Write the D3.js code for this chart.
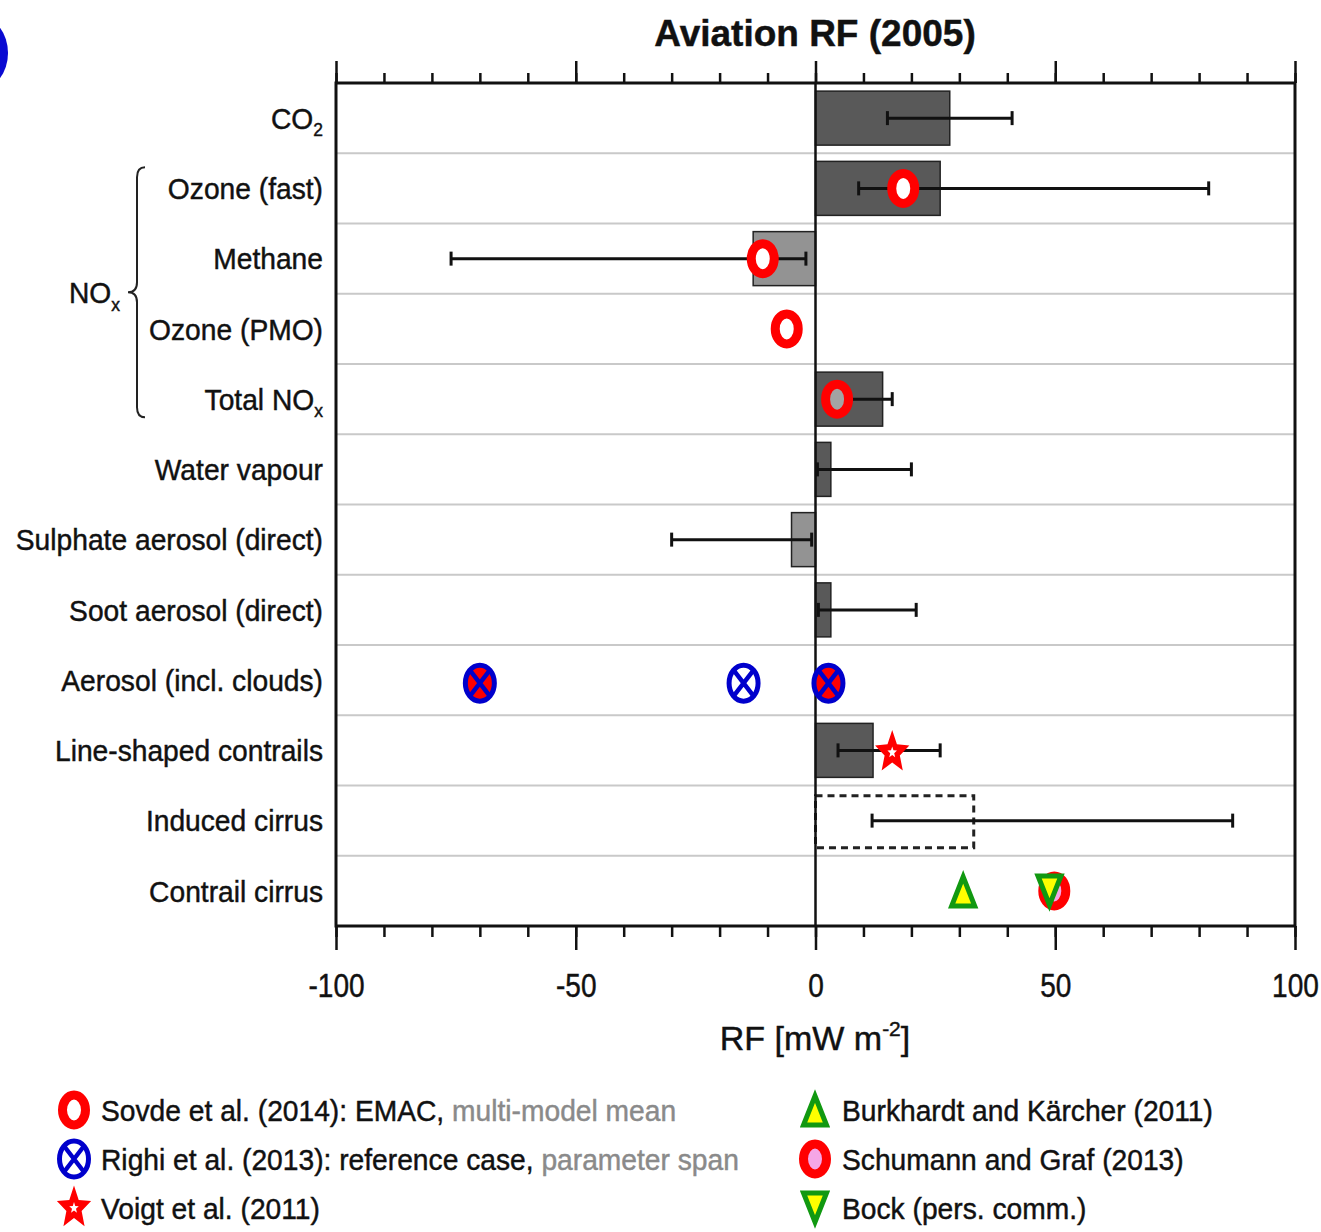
<!DOCTYPE html>
<html>
<head>
<meta charset="utf-8">
<script src="https://cdn.jsdelivr.net/npm/d3@7"></script>
<style>
  body { margin: 0; background: #fff; }
  text { font-family: "Liberation Sans", Arial, Helvetica, sans-serif; fill: #111; stroke: #111; stroke-width: 0.45px; }
</style>
</head>
<body>
<div class="canva"></div>
<script>
// rows of the chart, "_" marks a subscript
const categories = ["CO_2", "Ozone (fast)", "Methane", "Ozone (PMO)", "Total NO_x", "Water vapour",
  "Sulphate aerosol (direct)", "Soot aerosol (direct)", "Aerosol (incl. clouds)",
  "Line-shaped contrails", "Induced cirrus", "Contrail cirrus"]

// best estimate bars and their ranges (mW m-2)
const barValue = [28, 26, -13, null, 14, 3.2, -5, 3.2, null, 12, 33, null]
const barKind  = ["dark", "dark", "light", null, "dark", "dark", "light", "dark", null, "dark", "dashed", null]
const errLow   = [15, 9, -76, null, 4, 0.4, -30, 0.6, null, 4.7, 11.8, null]
const errHigh  = [41, 82, -2, null, 16, 20, -0.8, 21, null, 26, 87, null]

// study markers
const sovdeCats   = ["Ozone (fast)", "Methane", "Ozone (PMO)", "Total NO_x"]
const sovdeValues = [18.3, -11, -6, 4.5]
const sovdeMean   = [false, false, false, true]
const righiValues = [-70, -15, 2.7]
const righiRef    = [false, true, false]
const voigtValues = [16]
const burkhardtValues = [30.8]
const schumannValues  = [49.8]
const bockValues      = [48.8]

const xTicks = d3.range(-100, 101, 10)
const xMajor = [-100, -50, 0, 50, 100]

const legendLeft  = [["Sovde et al. (2014): EMAC, ", "multi-model mean"],
                     ["Righi et al. (2013): reference case, ", "parameter span"],
                     ["Voigt et al. (2011)", ""]]
const legendRight = ["Burkhardt and Kärcher (2011)", "Schumann and Graf (2013)", "Bock (pers. comm.)"]

const svg = d3.select(".canva").append("svg")
  .attr("width", 1321).attr("height", 1232)

const x = d3.scaleLinear().domain([-100, 100]).range([336, 1295])
const y = d3.scaleBand().domain(categories).range([83, 926])
const yc = d => y(d) + y.bandwidth() / 2
const barH = 54

// panel letter blob at the corner
svg.append("ellipse").attr("cx", -20).attr("cy", 53).attr("rx", 28).attr("ry", 36).attr("fill", "#0a0ad2")

// title
svg.append("text").text("Aviation RF (2005)")
  .attr("x", 815).attr("y", 46).attr("text-anchor", "middle")
  .attr("font-size", 37).attr("font-weight", "bold")

// row separators
svg.selectAll(".sep").data(categories.slice(1)).join("line")
  .attr("x1", 336).attr("x2", 1295)
  .attr("y1", d => y(d)).attr("y2", d => y(d))
  .attr("stroke", "#c9c9c9").attr("stroke-width", 2)

function addLabel(g, str, size) {
  const t = g.append("text")
  str.split("_").forEach((part, i) => {
    if (i == 0) t.append("tspan").text(part)
    else t.append("tspan").text(part).attr("font-size", size * 0.62).attr("dy", size * 0.25)
  })
  return t
}

// y labels
categories.forEach(c => {
  const g = svg.append("g").attr("transform", `translate(323,${yc(c)}) scale(0.94,1)`)
  addLabel(g, c, 30).attr("text-anchor", "end").attr("font-size", 30).attr("dy", "0.36em")
})

// NOx brace
const yb1 = y("Ozone (fast)") + 14, yb2 = y("Total NO_x") + y.bandwidth() - 17
const ym = (yb1 + yb2) / 2
svg.append("path")
  .attr("d", `M145,${yb1} Q137,${yb1} 137,${yb1 + 10} L137,${ym - 10} Q137,${ym} 128,${ym} Q137,${ym} 137,${ym + 10} L137,${yb2 - 10} Q137,${yb2} 145,${yb2}`)
  .attr("fill", "none").attr("stroke", "#222").attr("stroke-width", 2)
const nox = svg.append("g").attr("transform", `translate(69,${ym}) scale(0.94,1)`)
addLabel(nox, "NO_x", 30).attr("font-size", 30).attr("dy", "0.36em")

// bars
const rows = categories.map((c, i) => ({c, v: barValue[i], k: barKind[i], lo: errLow[i], hi: errHigh[i]}))
svg.selectAll(".bar").data(rows.filter(d => d.v != null)).join("rect")
  .attr("x", d => x(Math.min(0, d.v)))
  .attr("width", d => Math.abs(x(d.v) - x(0)))
  .attr("y", d => yc(d.c) - barH / 2 + (d.k == "dashed" ? 2 : 0))
  .attr("height", d => d.k == "dashed" ? barH - 2 : barH)
  .attr("fill", d => d.k == "dark" ? "#595959" : d.k == "light" ? "#939393" : "none")
  .attr("stroke", "#222")
  .attr("stroke-width", d => d.k == "dashed" ? 3 : 1.5)
  .attr("stroke-dasharray", d => d.k == "dashed" ? "7,5" : null)

// zero line
svg.append("line").attr("x1", x(0)).attr("x2", x(0)).attr("y1", 83).attr("y2", 926)
  .attr("stroke", "#111").attr("stroke-width", 2.5)

// error bars
const eb = svg.selectAll(".err").data(rows.filter(d => d.lo != null)).join("g")
eb.append("line").attr("x1", d => x(d.lo)).attr("x2", d => x(d.hi))
  .attr("y1", d => yc(d.c)).attr("y2", d => yc(d.c))
  .attr("stroke", "#111").attr("stroke-width", 3)
eb.selectAll(".cap").data(d => [[d.lo, d.c], [d.hi, d.c]]).join("line")
  .attr("x1", d => x(d[0])).attr("x2", d => x(d[0]))
  .attr("y1", d => yc(d[1]) - 7).attr("y2", d => yc(d[1]) + 7)
  .attr("stroke", "#111").attr("stroke-width", 3)

// marker drawing helpers
function ring(g, fill) {
  g.append("ellipse").attr("rx", 11.5).attr("ry", 15)
    .attr("fill", fill).attr("stroke", "#ff0000").attr("stroke-width", 9)
}
function crossed(g, fill) {
  g.append("ellipse").attr("rx", 14.5).attr("ry", 18)
    .attr("fill", fill).attr("stroke", "#0000cc").attr("stroke-width", 5)
  g.append("path").attr("d", "M-10,-13 L10,13 M10,-13 L-10,13")
    .attr("stroke", "#0000cc").attr("stroke-width", 4.5)
}
function starPath(R, r, sy) {
  let p = ""
  for (let i = 0; i < 10; i++) {
    const a = -Math.PI / 2 + i * Math.PI / 5
    const rad = i % 2 ? r : R
    p += (i ? "L" : "M") + (rad * Math.cos(a)).toFixed(2) + "," + (rad * Math.sin(a) * sy).toFixed(2)
  }
  return p + "Z"
}
function star(g) {
  g.append("path").attr("d", starPath(18, 8, 1.25)).attr("fill", "#ff0000")
  g.append("path").attr("d", starPath(5, 2.1, 1.2)).attr("fill", "#fff")
}
function tri(g, up) {
  const s = up ? 1 : -1
  g.append("path").attr("d", `M0,${-14 * s} L11.5,${15 * s} L-11.5,${15 * s} Z`)
    .attr("fill", "#ffff00").attr("stroke", "#119911").attr("stroke-width", 5)
    .attr("stroke-linejoin", "miter")
}

// Sovde et al.
sovdeCats.forEach((c, i) => {
  ring(svg.append("g").attr("transform", `translate(${x(sovdeValues[i])},${yc(c)})`), sovdeMean[i] ? "#a3a3a3" : "#fff")
})
// Righi et al.
righiValues.forEach((v, i) => {
  crossed(svg.append("g").attr("transform", `translate(${x(v)},${yc("Aerosol (incl. clouds)") + 3})`), righiRef[i] ? "#fff" : "#ff0000")
})
// Voigt et al.
voigtValues.forEach(v => star(svg.append("g").attr("transform", `translate(${x(v)},${yc("Line-shaped contrails") + 2})`)))
// contrail cirrus estimates
burkhardtValues.forEach(v => tri(svg.append("g").attr("transform", `translate(${x(v)},${yc("Contrail cirrus")})`), true))
schumannValues.forEach(v => ring(svg.append("g").attr("transform", `translate(${x(v)},${yc("Contrail cirrus")})`), "#f5a6e6"))
bockValues.forEach(v => tri(svg.append("g").attr("transform", `translate(${x(v)},${yc("Contrail cirrus")})`), false))

// axes, ticks outward
function styleAxis(g) {
  g.select(".domain").remove()
  g.selectAll(".tick line").attr("stroke", "#111").attr("stroke-width", 2.5)
}
svg.append("g").attr("transform", "translate(0,83)")
  .call(d3.axisTop(x).tickValues(xTicks).tickSize(10).tickFormat("")).call(styleAxis)
svg.append("g").attr("transform", "translate(0,83)")
  .call(d3.axisTop(x).tickValues(xMajor).tickSize(22).tickFormat("")).call(styleAxis)
svg.append("g").attr("transform", "translate(0,926)")
  .call(d3.axisBottom(x).tickValues(xTicks).tickSize(11).tickFormat("")).call(styleAxis)
const xb = svg.append("g").attr("transform", "translate(0,926)")
  .call(d3.axisBottom(x).tickValues(xMajor).tickSize(24).tickPadding(24).tickFormat(d => String(d)))
  .call(styleAxis)
xb.selectAll(".tick text").attr("font-size", 33).attr("fill", "#111")
  .attr("font-family", "Liberation Sans, Arial, sans-serif").attr("transform", "scale(0.85,1)")

// frame
svg.append("rect").attr("x", 336).attr("y", 83).attr("width", 959).attr("height", 843)
  .attr("fill", "none").attr("stroke", "#111").attr("stroke-width", 3)

// x axis title
const xt = svg.append("text").attr("x", 815).attr("y", 1050).attr("text-anchor", "middle").attr("font-size", 34)
xt.append("tspan").text("RF [mW m")
xt.append("tspan").text("-2").attr("font-size", 21).attr("dy", -14)
xt.append("tspan").text("]").attr("dy", 14)

// legend
const legY = [1110, 1159, 1208]
legendLeft.forEach((parts, i) => {
  const g = svg.append("g").attr("transform", `translate(74,${legY[i]})`)
  if (i == 0) ring(g, "#fff")
  if (i == 1) crossed(g, "#fff")
  if (i == 2) star(g)
  const t = svg.append("g").attr("transform", `translate(101,${legY[i]}) scale(0.94,1)`)
    .append("text").attr("font-size", 30).attr("dy", "0.36em")
  t.append("tspan").text(parts[0])
  t.append("tspan").text(parts[1]).style("fill", "#8a8a8a").style("stroke", "#8a8a8a")
})
legendRight.forEach((txt, i) => {
  const g = svg.append("g").attr("transform", `translate(815,${legY[i]})`)
  if (i == 0) tri(g, true)
  if (i == 1) ring(g, "#f5a6e6")
  if (i == 2) tri(g, false)
  svg.append("g").attr("transform", `translate(842,${legY[i]}) scale(0.94,1)`)
    .append("text").attr("font-size", 30).attr("dy", "0.36em").text(txt)
})
</script>
</body>
</html>
